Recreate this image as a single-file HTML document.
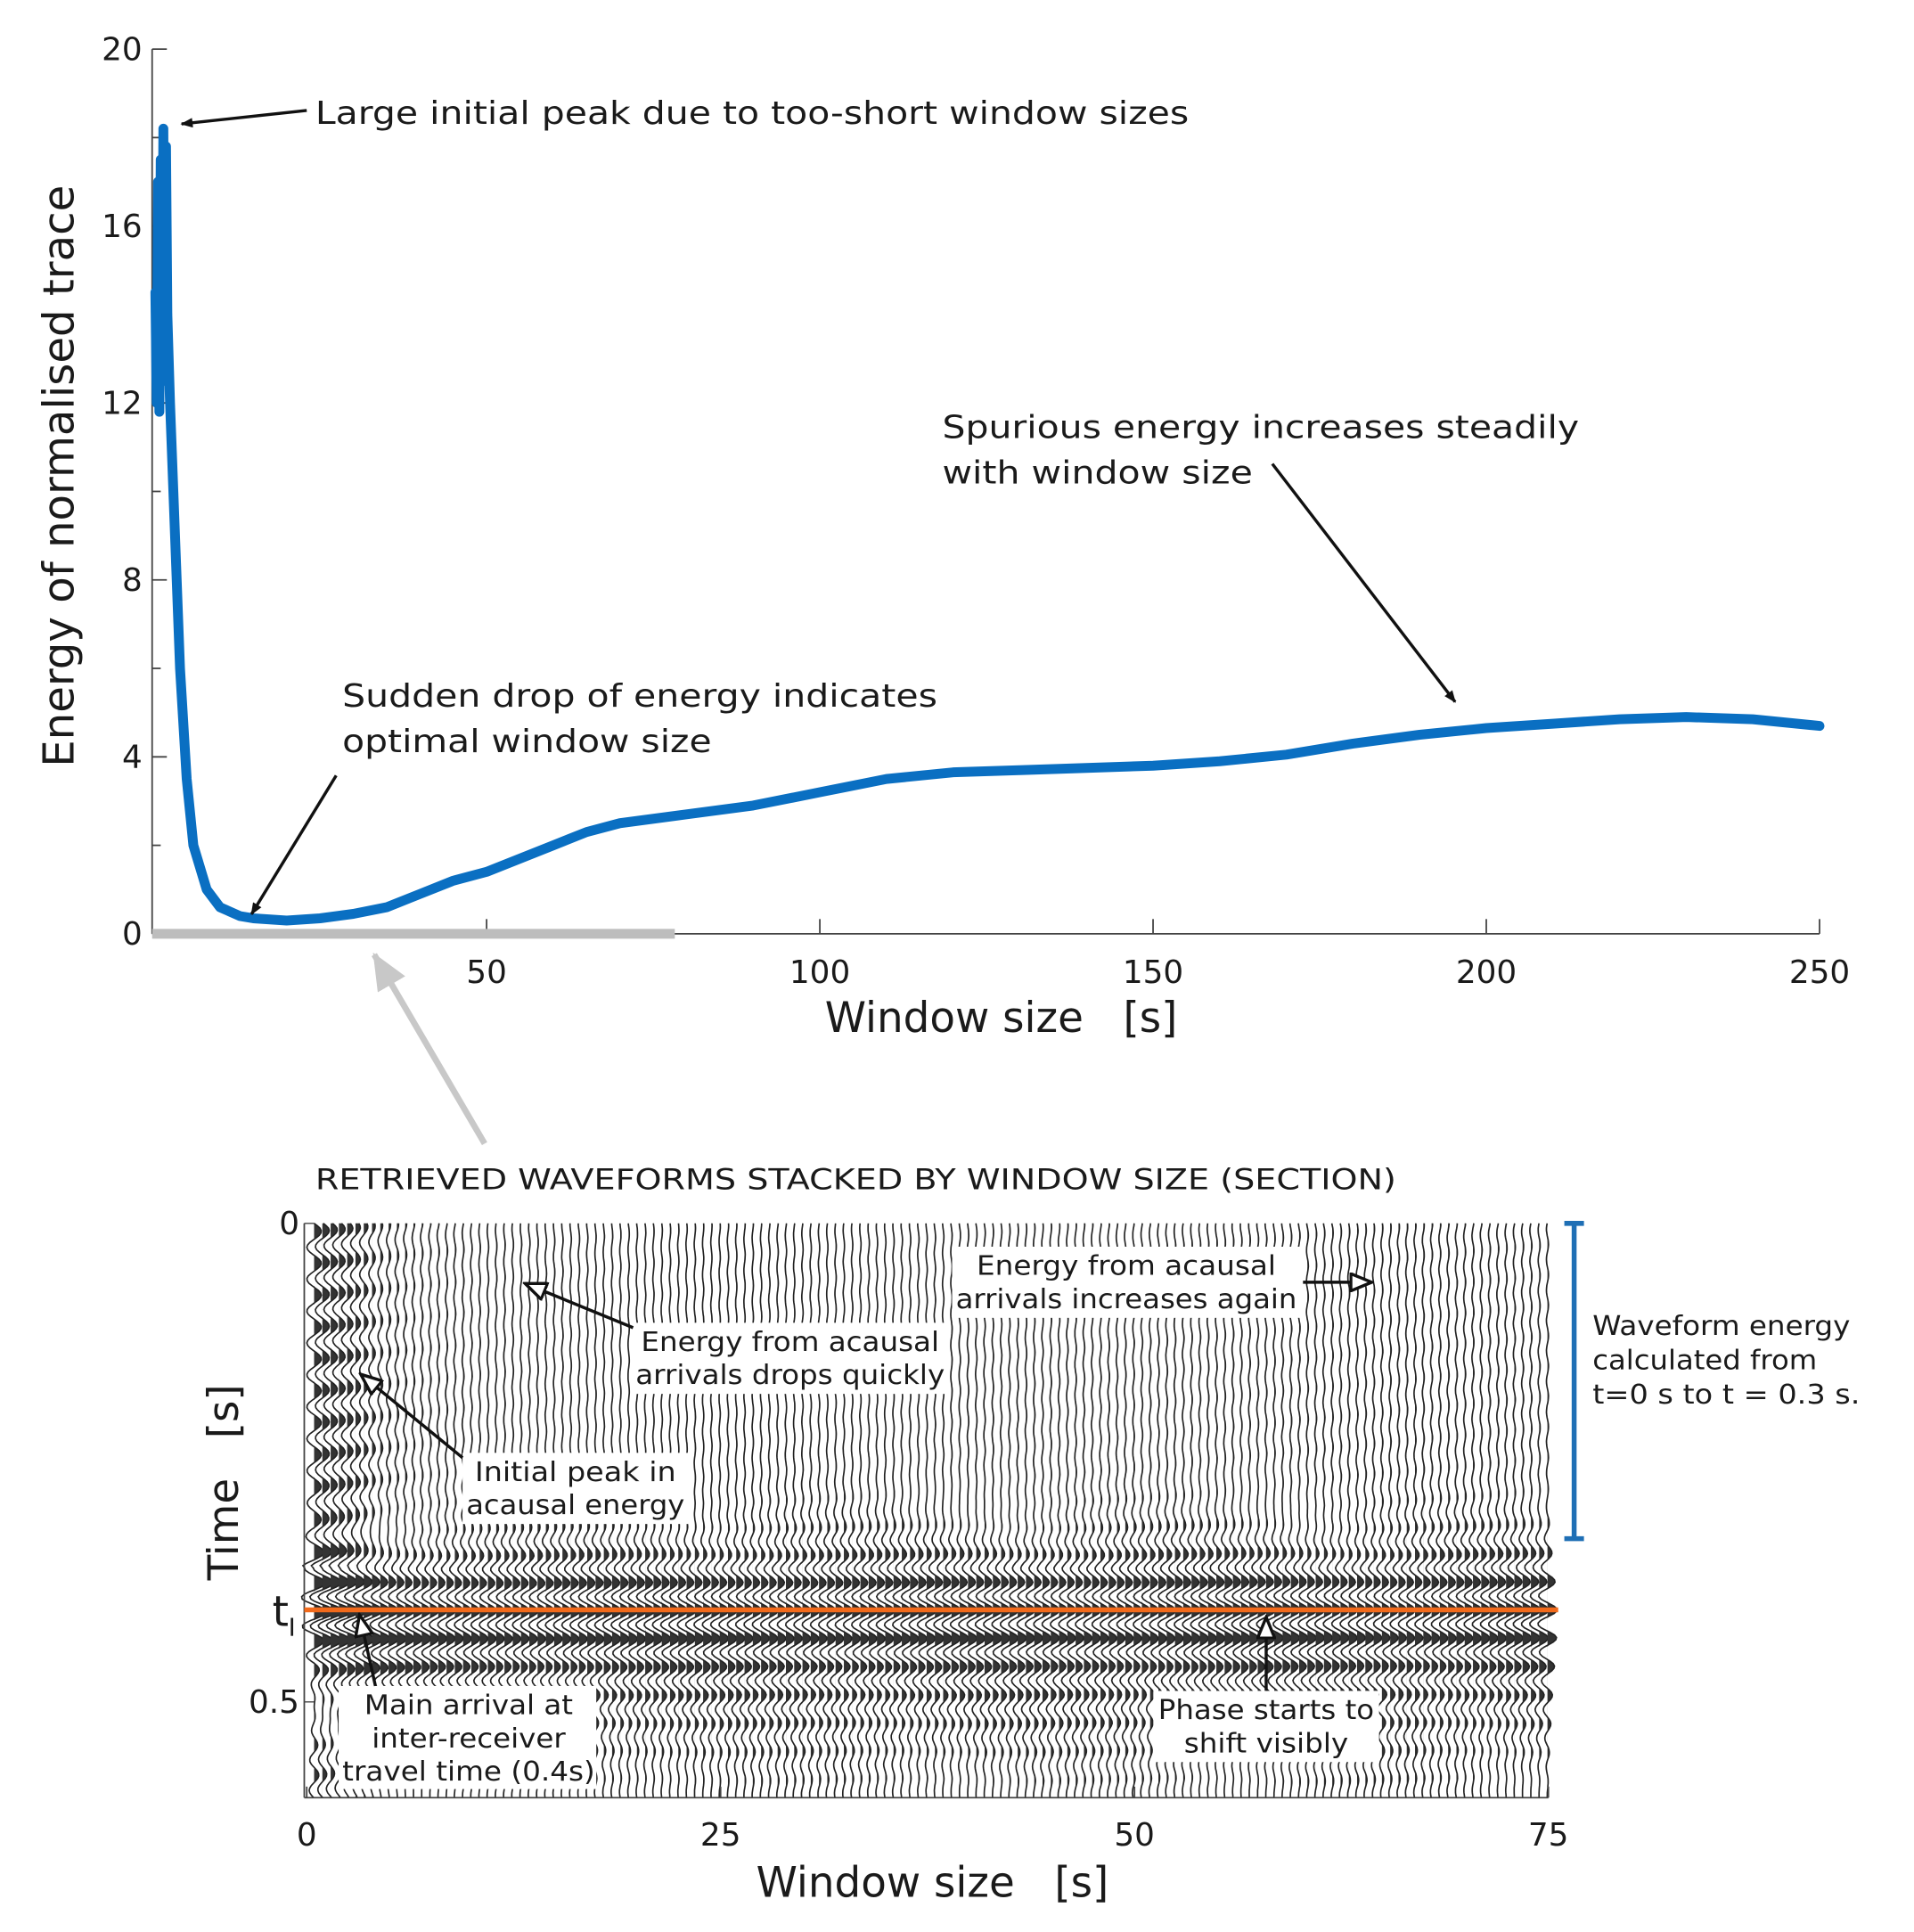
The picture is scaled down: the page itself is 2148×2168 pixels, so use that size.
<!DOCTYPE html>
<html><head><meta charset="utf-8"><style>
html,body{margin:0;padding:0;background:#fff}
svg{display:block}
text{font-family:"DejaVu Sans","Liberation Sans",sans-serif;fill:#1a1a1a;white-space:pre}
</style></head><body>
<svg id="fig" width="2148" height="2168" viewBox="0 0 1560 1574.5" xmlns="http://www.w3.org/2000/svg">
<defs>
<marker id="ah" markerWidth="10" markerHeight="8" refX="9" refY="4" orient="auto" markerUnits="userSpaceOnUse"><path d="M0,0 L10,4 L0,8 Z" fill="#111"/></marker>
<marker id="oh" markerWidth="20" markerHeight="16" refX="18" refY="8" orient="auto" markerUnits="userSpaceOnUse"><path d="M1,1 L18,8 L1,15 Z" fill="#fff" stroke="#111" stroke-width="2.5"/></marker>
<marker id="gh" markerWidth="30" markerHeight="26" refX="28" refY="13" orient="auto" markerUnits="userSpaceOnUse"><path d="M0,0 L30,13 L0,26 Z" fill="#c8c8c8"/></marker>
</defs>
<g id="topchart"></g>
<g id="bottom"></g>
<g id="annot">
<text x="257" y="101" font-size="26" textLength="712" lengthAdjust="spacingAndGlyphs">Large initial peak due to too-short window sizes</text>
<line x1="250" y1="90" x2="148" y2="101" stroke="#111" stroke-width="2.5" marker-end="url(#ah)"/>
<text x="768" y="357" font-size="26" textLength="519" lengthAdjust="spacingAndGlyphs">Spurious energy increases steadily</text>
<text x="768" y="394" font-size="26" textLength="253" lengthAdjust="spacingAndGlyphs">with window size</text>
<line x1="1037" y1="378" x2="1186" y2="572" stroke="#111" stroke-width="2.5" marker-end="url(#ah)"/>
<text x="279" y="576" font-size="26" textLength="485" lengthAdjust="spacingAndGlyphs">Sudden drop of energy indicates</text>
<text x="279" y="613" font-size="26" textLength="301" lengthAdjust="spacingAndGlyphs">optimal window size</text>
<line x1="274" y1="632" x2="205" y2="745" stroke="#111" stroke-width="2.5" marker-end="url(#ah)"/>
<line x1="395" y1="932" x2="305" y2="778" stroke="#c8c8c8" stroke-width="5" marker-end="url(#gh)"/>
<text x="257" y="969" font-size="23" textLength="881" lengthAdjust="spacingAndGlyphs">RETRIEVED WAVEFORMS STACKED BY WINDOW SIZE (SECTION)</text>
</g>
<g id="bannot">
<rect x="776" y="1016" width="286" height="58" fill="#fff"/>
<text x="918" y="1039" font-size="22" text-anchor="middle" textLength="244" lengthAdjust="spacingAndGlyphs">Energy from acausal</text>
<text x="918" y="1066" font-size="22" text-anchor="middle" textLength="278" lengthAdjust="spacingAndGlyphs">arrivals increases again</text>
<line x1="1062" y1="1045" x2="1118" y2="1045" stroke="#111" stroke-width="2.5" marker-end="url(#oh)"/>
<rect x="515" y="1078" width="258" height="58" fill="#fff"/>
<text x="644" y="1101" font-size="22" text-anchor="middle" textLength="243" lengthAdjust="spacingAndGlyphs">Energy from acausal</text>
<text x="644" y="1128" font-size="22" text-anchor="middle" textLength="252" lengthAdjust="spacingAndGlyphs">arrivals drops quickly</text>
<line x1="516" y1="1082" x2="428" y2="1046" stroke="#111" stroke-width="2.5" marker-end="url(#oh)"/>
<rect x="377" y="1184" width="184" height="58" fill="#fff"/>
<text x="469" y="1207" font-size="22" text-anchor="middle" textLength="164" lengthAdjust="spacingAndGlyphs">Initial peak in</text>
<text x="469" y="1234" font-size="22" text-anchor="middle" textLength="178" lengthAdjust="spacingAndGlyphs">acausal energy</text>
<line x1="377" y1="1188" x2="294" y2="1120" stroke="#111" stroke-width="2.5" marker-end="url(#oh)"/>
<rect x="276" y="1374" width="210" height="84" fill="#fff"/>
<text x="382" y="1397" font-size="22" text-anchor="middle" textLength="170" lengthAdjust="spacingAndGlyphs">Main arrival at</text>
<text x="382" y="1424" font-size="22" text-anchor="middle" textLength="158" lengthAdjust="spacingAndGlyphs">inter-receiver</text>
<text x="382" y="1451" font-size="22" text-anchor="middle" textLength="206" lengthAdjust="spacingAndGlyphs">travel time (0.4s)</text>
<line x1="306" y1="1374" x2="293" y2="1316" stroke="#111" stroke-width="2.5" marker-end="url(#oh)"/>
<rect x="940" y="1378" width="184" height="58" fill="#fff"/>
<text x="1032" y="1401" font-size="22" text-anchor="middle" textLength="176" lengthAdjust="spacingAndGlyphs">Phase starts to</text>
<text x="1032" y="1428" font-size="22" text-anchor="middle" textLength="134" lengthAdjust="spacingAndGlyphs">shift visibly</text>
<line x1="1032" y1="1378" x2="1032" y2="1318" stroke="#111" stroke-width="2.5" marker-end="url(#oh)"/>
<g stroke="#1f6fb5" stroke-width="4">
<line x1="1283" y1="997" x2="1283" y2="1254"/><line x1="1275" y1="997" x2="1291" y2="997"/><line x1="1275" y1="1254" x2="1291" y2="1254"/>
</g>
<text x="1298" y="1088" font-size="22" textLength="210" lengthAdjust="spacingAndGlyphs">Waveform energy</text>
<text x="1298" y="1116" font-size="22" textLength="183" lengthAdjust="spacingAndGlyphs">calculated from</text>
<text x="1298" y="1144" font-size="22" textLength="218" lengthAdjust="spacingAndGlyphs">t=0 s to t = 0.3 s.</text>
</g>
</svg>
<script>
const NS='http://www.w3.org/2000/svg';
function mk(tag,attrs,parent){const e=document.createElementNS(NS,tag);for(const k in attrs)e.setAttribute(k,attrs[k]);parent.appendChild(e);return e;}
// ---- Top chart data ----
const winSizes=[0.3,0.5,0.7,0.9,1.1,1.3,1.5,1.7,1.9,2.1,2.5,3,4,5,6,8,10,13,15,20,25,30,35,40,45,50,55,60,65,70,80,90,100,110,120,130,140,150,160,170,180,190,200,210,220,230,240,250];
const energyVals=[14.5,12,17,11.8,17.5,13,18.2,12.5,17.8,14,12,10,6,3.5,2,1,0.6,0.4,0.35,0.3,0.35,0.45,0.6,0.9,1.2,1.4,1.7,2.0,2.3,2.5,2.7,2.9,3.2,3.5,3.65,3.7,3.75,3.8,3.9,4.05,4.3,4.5,4.65,4.75,4.85,4.9,4.85,4.7];
const xTicks=[50,100,150,200,250];
const yTicks=[0,4,8,12,16,20];
const yMinor=[2,6,10,14,18];
const acausalW=[0,1,2,3,4,6,10,20,40,60,75];
const acausalA=[1.4,1.3,1.1,0.8,0.45,0.25,0.15,0.12,0.14,0.18,0.2];
const bxTicks=[0,25,50,75];
const X0=125,XS=(1483-125)/250,Y0=761,YS=(761-40)/20;
const xs=v=>X0+v*XS, ys=v=>Y0-v*YS;
const topG=document.getElementById('topchart');
let el;
el=mk('line',{x1:124,y1:40,x2:124,y2:761,stroke:'#444','stroke-width':1.3},topG);


el=mk('line',{x1:124,y1:761,x2:1483,y2:761,stroke:'#444','stroke-width':1.3},topG);


yTicks.forEach(v=>{mk('line',{x1:124,y1:ys(v),x2:136,y2:ys(v),stroke:'#444','stroke-width':1.3},topG);
 el=mk('text',{x:116,y:ys(v)+9,'font-size':26,'text-anchor':'end'},topG);el.textContent=v;
 
 });
yMinor.forEach(v=>mk('line',{x1:124,y1:ys(v),x2:131,y2:ys(v),stroke:'#444','stroke-width':1.3},topG));
xTicks.forEach(v=>{mk('line',{x1:xs(v),y1:761,x2:xs(v),y2:749,stroke:'#444','stroke-width':1.3},topG);
 el=mk('text',{x:xs(v),y:801,'font-size':26,'text-anchor':'middle'},topG);el.textContent=v;
 
 });
el=mk('rect',{x:124,y:757,width:426,height:8,fill:'#bdbdbd'},topG);


el=mk('polyline',{points:winSizes.map((w,i)=>xs(w)+','+ys(energyVals[i])).join(' '),fill:'none',stroke:'#0a6fc2','stroke-width':8,'stroke-linejoin':'round','stroke-linecap':'round'},topG);


el=mk('text',{x:816,y:841,'font-size':34,'text-anchor':'middle'},topG);el.textContent='Window size   [s]';


el=mk('text',{x:0,y:0,'font-size':35,'text-anchor':'middle',transform:'translate(60,388) rotate(-90)'},topG);el.textContent='Energy of normalised trace';


// ---- Bottom section ----
const bX0=250,bXS=(1262-250)/75,bY0=997,bYS=(1387-997)/0.5;
const bot=document.getElementById('bottom');
function interp(w){for(let i=1;i<acausalW.length;i++){if(w<=acausalW[i]){const f=(w-acausalW[i-1])/(acausalW[i]-acausalW[i-1]);return acausalA[i-1]+f*(acausalA[i]-acausalA[i-1]);}}return acausalA[acausalA.length-1];}
const tg=mk('g',{},bot);
for(let i=0;i<150;i++){
 const w=i*0.5, bx=bX0+6+w*bXS, a=interp(w);
 let pos='M'+bx+','+bY0, line='';
 for(let t=0;t<=0.6;t+=0.0025){
  const y=bY0+t*bYS;
  let s=a*Math.sin(2*Math.PI*(30+w*0.02)*t+w*0.3)*(t<0.36?1:0.6);
  const env=Math.exp(-Math.pow((t-0.405)/0.07,2));
  s+=env*1.6*Math.cos(2*Math.PI*34*(t-0.405)+w*0.004);
  s+=0.6*Math.exp(-Math.pow((t-0.5)/0.08,2))*Math.cos(2*Math.PI*34*(t-0.405));
  const d=s*4.2;
  line+=(line?' L':'M')+(bx+d).toFixed(1)+','+y.toFixed(1);
  pos+=' L'+(bx+Math.max(0,d)).toFixed(1)+','+y.toFixed(1);
 }
 pos+=' L'+bx+','+(bY0+0.6*bYS)+' Z';
 mk('path',{d:pos,fill:'#333'},tg);
 el=mk('path',{d:line,fill:'none',stroke:'#222','stroke-width':1.2},tg);
 
 
}
el=mk('line',{x1:248,y1:997,x2:248,y2:1465,stroke:'#444','stroke-width':1.3},bot);


mk('line',{x1:248,y1:1465,x2:1262,y2:1465,stroke:'#444','stroke-width':1.3},bot);
bxTicks.forEach(v=>{const x=bX0+v*bXS;mk('line',{x1:x,y1:1465,x2:x,y2:1456,stroke:'#444','stroke-width':1.3},bot);
 el=mk('text',{x:x,y:1504,'font-size':26,'text-anchor':'middle'},bot);el.textContent=v;
 
 });
[[0,'0'],[0.5,'0.5']].forEach(([v,l])=>{const y=bY0+v*bYS;mk('line',{x1:248,y1:y,x2:256,y2:y,stroke:'#444'},bot);
 el=mk('text',{x:244,y:y+9,'font-size':26,'text-anchor':'end'},bot);el.textContent=l;
 
 });
el=mk('line',{x1:248,y1:1312,x2:1270,y2:1312,stroke:'#f26a1b','stroke-width':4},bot);


el=mk('text',{x:222,y:1325,'font-size':34},bot);el.textContent='t';


el=mk('text',{x:235,y:1333,'font-size':20},bot);el.textContent='I';
el=mk('text',{x:760,y:1546,'font-size':34,'text-anchor':'middle'},bot);el.textContent='Window size   [s]';


el=mk('text',{x:0,y:0,'font-size':34,'text-anchor':'middle',transform:'translate(194,1208) rotate(-90)'},bot);el.textContent='Time   [s]';


</script>
</body></html>
